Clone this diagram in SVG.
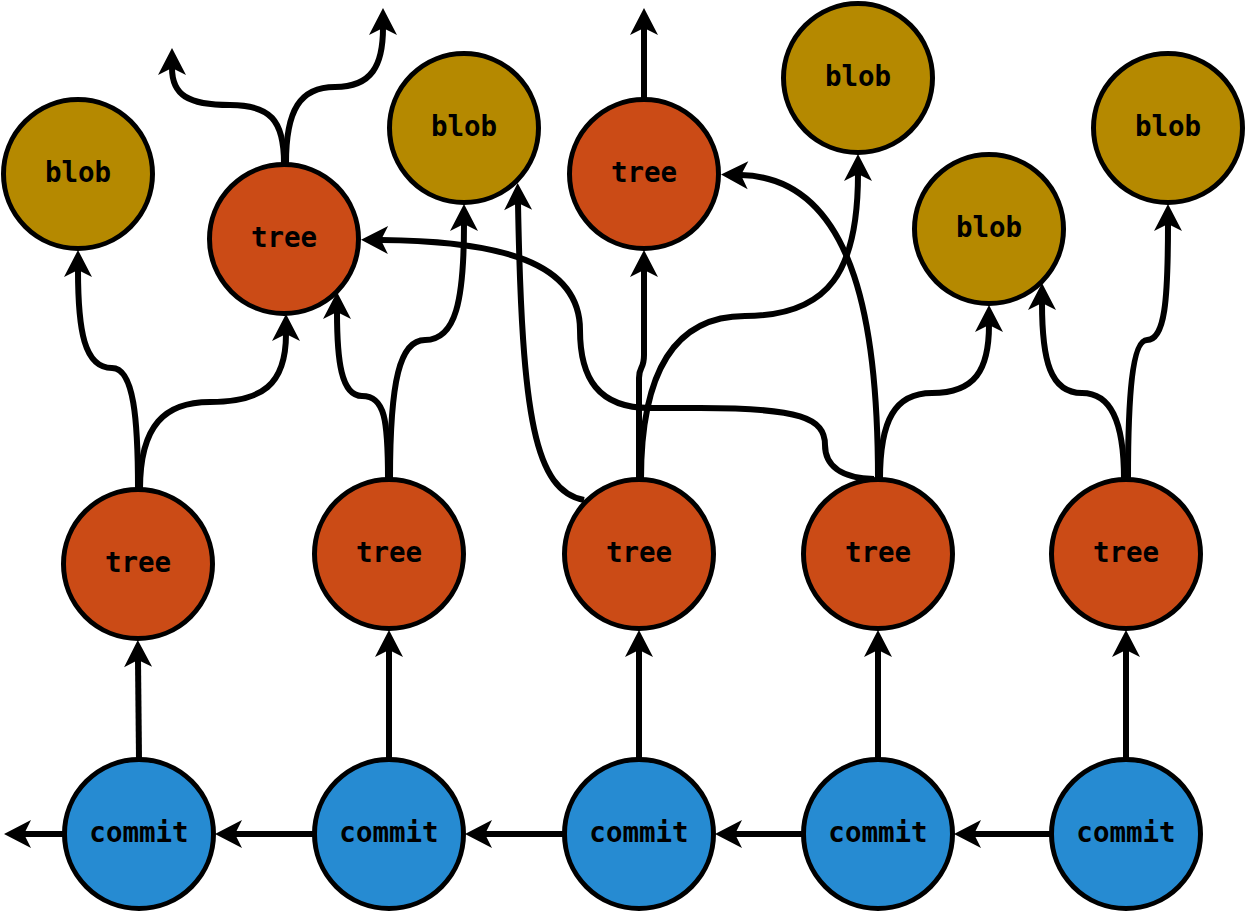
<svg xmlns="http://www.w3.org/2000/svg" width="1247" height="912" viewBox="0 0 1247 912">
<style>
.n{stroke:#000;stroke-width:5}
.blob{fill:#b58900}
.tree{fill:#cb4b16}
.commit{fill:#268bd2}
text{font-family:"DejaVu Sans Mono","Liberation Mono",monospace;font-weight:bold;font-size:27.5px;text-anchor:middle;fill:#000}
.e path{fill:none;stroke:#000;stroke-width:6;marker-end:url(#a)}
</style>
<defs>
<marker id="a" markerUnits="userSpaceOnUse" viewBox="-30 -15 32 30" markerWidth="32" markerHeight="30" refX="-20" refY="0" orient="auto">
<path d="M0,0 L-27,-14 L-20,0 L-27,14 Z" fill="#000"/>
</marker>
</defs>
<rect width="1247" height="912" fill="#fff"/>
<g class="e" id="connectors">
<path d="M63,834 L24,834"/>
<path d="M313,834 L235,834"/>
<path d="M564,834 L485,834"/>
<path d="M803,834 L735,834"/>
<path d="M1051,834 L974,834"/>
<path d="M139,759 L138,660"/>
<path d="M389,759 L389,650"/>
<path d="M639,759 L639,650"/>
<path d="M878,759 L878,650"/>
<path d="M1126,759 L1126,650"/>
<path d="M138,489 C138,420 134,368 112,368 C84,368 78,330 78,270"/>
<path d="M140,489 C140,425 165,402 210,402 C262,402 286,385 286,334"/>
<path d="M388,479 C388,420 385,396 362,396 C341,396 337,360 337,312"/>
<path d="M390,479 C390,380 400,340 425,340 C456,340 464,300 464,224"/>
<path d="M584,500 C535,490 522,420 518,203"/>
<path d="M639,479 L639,378 C639,366 644,370 644,355 L644,270"/>
<path d="M641,479 C641,380 670,316 745,316 C830,316 858,270 858,174"/>
<path d="M874,479 C840,478 825,465 825,445 C825,418 800,408 700,408 L650,408 C598,408 580,378 580,330 C580,262 500,241 381,240"/>
<path d="M878,479 C878,340 860,178 741,175"/>
<path d="M880,479 C880,420 895,393 932,393 C975,393 989,370 989,325"/>
<path d="M1124,479 C1124,420 1110,393 1082,393 C1050,393 1042,360 1042,303"/>
<path d="M1128,479 C1128,400 1132,340 1147,340 C1165,340 1168,300 1168,224"/>
<path d="M284,163 C284,120 270,105 230,105 C188,105 172,95 172,68"/>
<path d="M286,163 C286,110 300,87 335,87 C372,87 383,65 383,28"/>
<path d="M644,99 L644,28"/>
</g>
<g id="blob1"><circle class="n blob" cx="78" cy="174" r="74.5"/><text x="78" y="182">blob</text></g>
<g id="tree_top1"><circle class="n tree" cx="284" cy="239" r="74.5"/><text x="284" y="247">tree</text></g>
<g id="blob2"><circle class="n blob" cx="464" cy="128" r="74.5"/><text x="464" y="136">blob</text></g>
<g id="tree_top2"><circle class="n tree" cx="644" cy="174" r="74.5"/><text x="644" y="182">tree</text></g>
<g id="blob3"><circle class="n blob" cx="858" cy="78" r="74.5"/><text x="858" y="86">blob</text></g>
<g id="blob4"><circle class="n blob" cx="989" cy="229" r="74.5"/><text x="989" y="237">blob</text></g>
<g id="blob5"><circle class="n blob" cx="1168" cy="128" r="74.5"/><text x="1168" y="136">blob</text></g>
<g id="tree1"><circle class="n tree" cx="138" cy="564" r="74.5"/><text x="138" y="572">tree</text></g>
<g id="tree2"><circle class="n tree" cx="389" cy="554" r="74.5"/><text x="389" y="562">tree</text></g>
<g id="tree3"><circle class="n tree" cx="639" cy="554" r="74.5"/><text x="639" y="562">tree</text></g>
<g id="tree4"><circle class="n tree" cx="878" cy="554" r="74.5"/><text x="878" y="562">tree</text></g>
<g id="tree5"><circle class="n tree" cx="1126" cy="554" r="74.5"/><text x="1126" y="562">tree</text></g>
<g id="commit1"><circle class="n commit" cx="139" cy="834" r="74.5"/><text x="139" y="842">commit</text></g>
<g id="commit2"><circle class="n commit" cx="389" cy="834" r="74.5"/><text x="389" y="842">commit</text></g>
<g id="commit3"><circle class="n commit" cx="639" cy="834" r="74.5"/><text x="639" y="842">commit</text></g>
<g id="commit4"><circle class="n commit" cx="878" cy="834" r="74.5"/><text x="878" y="842">commit</text></g>
<g id="commit5"><circle class="n commit" cx="1126" cy="834" r="74.5"/><text x="1126" y="842">commit</text></g>
</svg>
